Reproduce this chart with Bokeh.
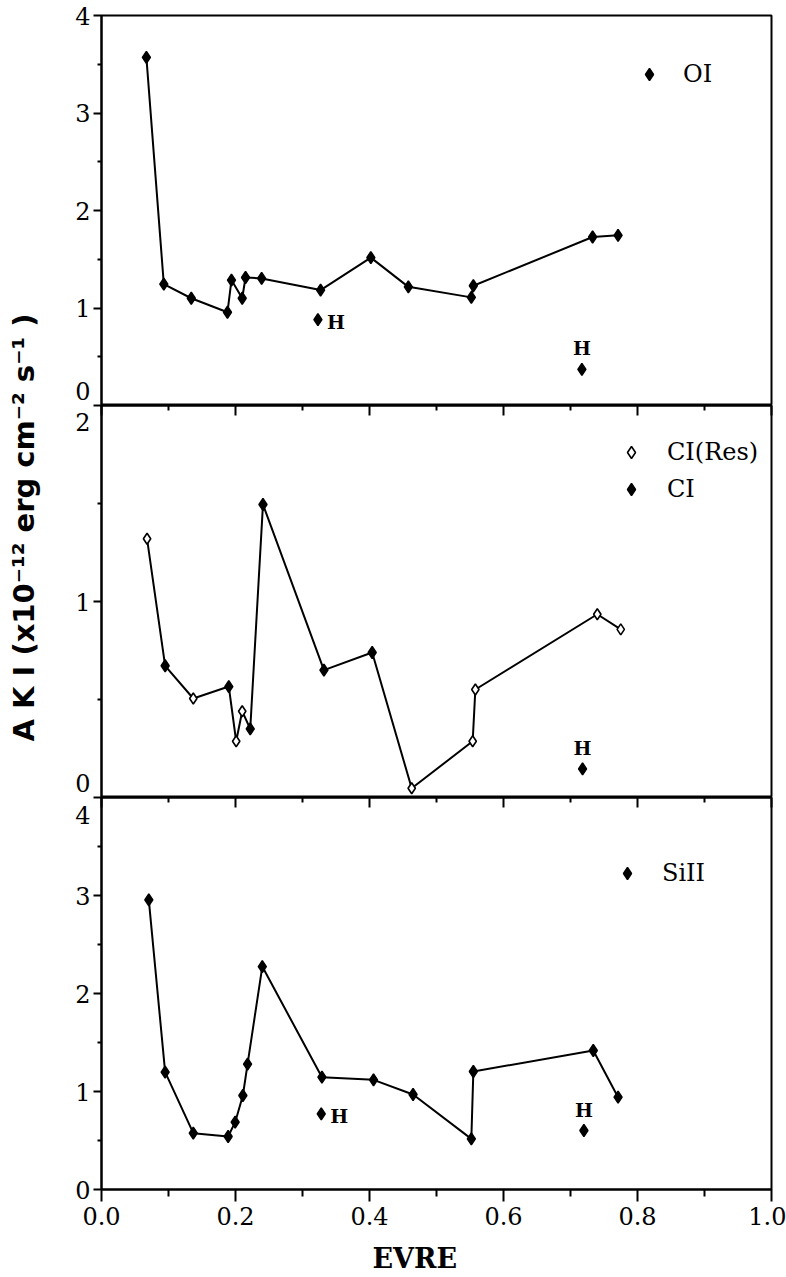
import math
from bokeh.plotting import figure
from bokeh.models import (Range1d, FixedTicker, LinearAxis, Label, Legend, LegendItem,
                          PrintfTickFormatter, Title)
from bokeh.layouts import row, column
from bokeh.embed import file_html
from bokeh.resources import INLINE

# ---------------- data ----------------
x_major = [0.0, 0.2, 0.4, 0.6, 0.8, 1.0]
x_minor = [0.1, 0.3, 0.5, 0.7, 0.9]

# top panel: OI
oi_x = [0.067, 0.093, 0.134, 0.188, 0.194, 0.210, 0.215, 0.239, 0.327, 0.402, 0.458, 0.552, 0.555, 0.733, 0.771]
oi_y = [3.57, 1.245, 1.10, 0.956, 1.286, 1.10, 1.313, 1.303, 1.184, 1.517, 1.217, 1.109, 1.228, 1.728, 1.745]
oi_h_x = [0.323, 0.717]
oi_h_y = [0.88, 0.37]

# middle panel: CI(Res) (open) and CI (filled)
ci_res_x = [0.068, 0.137, 0.201, 0.210, 0.463, 0.554, 0.558, 0.740, 0.775]
ci_res_y = [1.32, 0.505, 0.287, 0.44, 0.047, 0.287, 0.551, 0.935, 0.858]
ci_x = [0.095, 0.190, 0.222, 0.241, 0.332, 0.404]
ci_y = [0.672, 0.566, 0.35, 1.495, 0.65, 0.74]
ci_h_x = [0.718]
ci_h_y = [0.146]

# bottom panel: SiII
sii_x = [0.0706, 0.095, 0.137, 0.189, 0.1995, 0.211, 0.218, 0.240, 0.329, 0.406, 0.465, 0.552, 0.555, 0.734, 0.771]
sii_y = [2.956, 1.197, 0.575, 0.541, 0.687, 0.959, 1.28, 2.275, 1.146, 1.119, 0.969, 0.517, 1.204, 1.418, 0.942]
sii_h_x = [0.328, 0.720]
sii_h_y = [0.772, 0.602]

y_title = "A K I (x10\u207b\u00b9\u00b2  erg cm\u207b\u00b2 s\u207b\u00b9 )"
x_title = "EVRE"

# ---------------- styling ----------------
SERIF = "DejaVu Serif"
INK = "#000000"
TICK_FS = "24px"
STRIP_W = 42      # width of the strip that holds the y title
LEFT_B = 58       # left border of each panel (axis + boundary tick labels)


def axis_style():
    return dict(axis_line_width=2, axis_line_color=INK,
                major_tick_line_width=2, minor_tick_line_width=2,
                major_tick_line_color=INK, minor_tick_line_color=INK,
                major_label_text_font=SERIF, major_label_text_font_size=TICK_FS,
                major_label_text_color=INK)


def make_panel(ymax, frame_h, top_b, bottom_b, y_major, y_minor, hide):
    p = figure(frame_width=670, frame_height=frame_h,
               x_range=Range1d(0, 1), y_range=Range1d(0, ymax),
               min_border_left=LEFT_B, min_border_right=16,
               min_border_top=top_b, min_border_bottom=bottom_b,
               x_axis_type=None, y_axis_type=None,
               toolbar_location=None, output_backend="svg",
               background_fill_color="white", border_fill_color="white")
    p.grid.visible = False
    p.outline_line_color = INK
    p.outline_line_width = 2
    ya = LinearAxis(ticker=FixedTicker(ticks=y_major, minor_ticks=y_minor),
                    formatter=PrintfTickFormatter(format="%d"),
                    major_label_overrides={v: "" for v in hide},
                    major_tick_in=0, major_tick_out=8,
                    minor_tick_in=0, minor_tick_out=4,
                    major_label_standoff=3, **axis_style())
    p.add_layout(ya, "left")
    return p


def edge_tick_label(p, value, shift):
    """Label of a tick that sits on a panel boundary, nudged by `shift` px (up > 0).
    Placed in the left side panel so that it is not clipped to the frame."""
    p.add_layout(Label(x=0, y=value, x_offset=-11, y_offset=shift, text="%d" % value,
                       text_align="right", text_baseline="middle",
                       text_font=SERIF, text_font_size=TICK_FS, text_color=INK), "left")


def add_top_ticks(p):
    ax = LinearAxis(ticker=FixedTicker(ticks=x_major, minor_ticks=x_minor),
                    major_label_overrides={t: "" for t in x_major},
                    major_label_standoff=0,
                    major_tick_in=10, major_tick_out=0,
                    minor_tick_in=5, minor_tick_out=0,
                    axis_line_width=2, axis_line_color=INK,
                    major_tick_line_width=2, minor_tick_line_width=2,
                    major_tick_line_color=INK, minor_tick_line_color=INK,
                    major_label_text_font_size="0px")
    p.add_layout(ax, "above")


def h_labels(p, hx, hy, where):
    for x, y, w in zip(hx, hy, where):
        if w == "right":
            lab = Label(x=x, y=y, x_offset=9, y_offset=-2, text="H",
                        text_align="left", text_baseline="middle")
        else:
            lab = Label(x=x, y=y, x_offset=0, y_offset=10, text="H",
                        text_align="center", text_baseline="bottom")
        lab.text_font = SERIF
        lab.text_font_style = "bold"
        lab.text_font_size = "19px"
        lab.text_color = INK
        p.add_layout(lab)


def legend(p, items, loc, standoff, spacing=7):
    leg = Legend(items=items, location=loc, glyph_width=30, glyph_height=30,
                 label_standoff=standoff, padding=0, spacing=spacing, margin=0,
                 border_line_color=None, background_fill_alpha=0,
                 label_text_font=SERIF, label_text_font_size="24px",
                 label_text_color=INK)
    p.add_layout(leg)


DIAMOND = dict(marker="diamond", size=12, fill_color=INK, line_color=INK, line_width=1.5)
OPEN_DIAMOND = dict(marker="diamond", size=11, fill_color="white", line_color=INK, line_width=1.6)

# ---------- top panel ----------
p1 = make_panel(4, 390, 15, 0, [0, 1, 2, 3, 4], [0.5, 1.5, 2.5, 3.5], [0])
edge_tick_label(p1, 0, 15)
p1.line(oi_x, oi_y, line_color=INK, line_width=2)
r_oi = p1.scatter(oi_x, oi_y, **DIAMOND)
p1.scatter(oi_h_x, oi_h_y, **DIAMOND)
h_labels(p1, oi_h_x, oi_h_y, ["right", "above"])
legend(p1, [LegendItem(label="OI", renderers=[r_oi])], (533, 316), 19)

# ---------- middle panel ----------
p2 = make_panel(2, 392, 0, 0, [0, 1, 2], [0.5, 1.5], [0, 2])
edge_tick_label(p2, 2, -16)
edge_tick_label(p2, 0, 15)
add_top_ticks(p2)
ci_all = sorted(zip(ci_res_x + ci_x, ci_res_y + ci_y))
p2.line([a for a, b in ci_all], [b for a, b in ci_all], line_color=INK, line_width=2)
r_res = p2.scatter(ci_res_x, ci_res_y, **OPEN_DIAMOND)
r_ci = p2.scatter(ci_x, ci_y, **DIAMOND)
p2.scatter(ci_h_x, ci_h_y, **DIAMOND)
h_labels(p2, ci_h_x, ci_h_y, ["above"])
legend(p2, [LegendItem(label="CI(Res)", renderers=[r_res]),
            LegendItem(label="CI", renderers=[r_ci])], (515, 293), 21)

# ---------- bottom panel ----------
p3 = make_panel(4, 392, 0, 88, [0, 1, 2, 3, 4], [0.5, 1.5, 2.5, 3.5], [4])
edge_tick_label(p3, 4, -17)
add_top_ticks(p3)
xa = LinearAxis(ticker=FixedTicker(ticks=x_major, minor_ticks=x_minor),
                formatter=PrintfTickFormatter(format="%.1f"),
                major_tick_in=0, major_tick_out=12,
                minor_tick_in=0, minor_tick_out=7,
                major_label_standoff=5, **axis_style())
p3.add_layout(xa, "below")
p3.line(sii_x, sii_y, line_color=INK, line_width=2)
r_sii = p3.scatter(sii_x, sii_y, **DIAMOND)
p3.scatter(sii_h_x, sii_h_y, **DIAMOND)
h_labels(p3, sii_h_x, sii_h_y, ["right", "above"])
legend(p3, [LegendItem(label="SiII", renderers=[r_sii])], (511, 301), 20)
p3.add_layout(Title(text=x_title, align="left", offset=271, standoff=27,
                    text_font=SERIF, text_font_style="bold",
                    text_font_size="27px", text_color=INK), "below")

# ---------- y title strip ----------
pt = figure(width=STRIP_W, height=1277, x_range=Range1d(0, STRIP_W), y_range=Range1d(0, 1277),
            min_border=0, x_axis_type=None, y_axis_type=None,
            toolbar_location=None, output_backend="svg",
            outline_line_color=None, background_fill_color="white",
            border_fill_color="white")
pt.grid.visible = False
pt.add_layout(Label(x=23, y=1277 - 522, text=y_title, angle=math.pi / 2,
                    text_align="center", text_baseline="middle",
                    text_font="DejaVu Sans", text_font_style="bold",
                    text_font_size="29px", text_color=INK))

layout = row(pt, column(p1, p2, p3, spacing=0), spacing=0)
open("out.html", "w").write(file_html(layout, INLINE))
